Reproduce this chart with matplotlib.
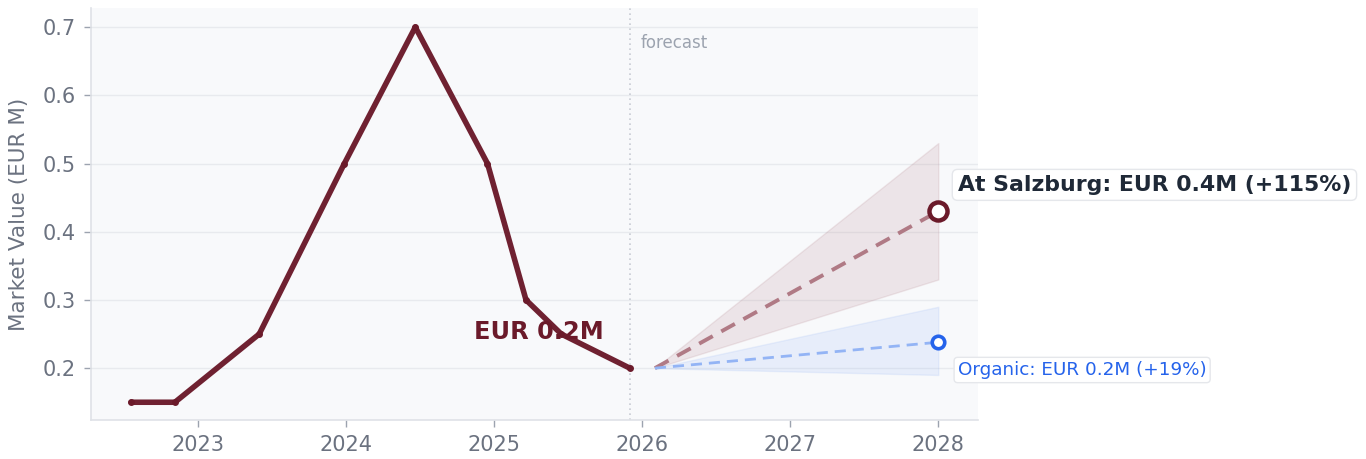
import matplotlib
matplotlib.use("Agg")
import matplotlib.pyplot as plt
import matplotlib.dates as mdates
from datetime import datetime

# ---- data ----
hist_dates = ["2022-07-20", "2022-11-05", "2023-06-01", "2023-12-28", "2024-06-20",
              "2024-12-15", "2025-03-20", "2025-06-15", "2025-12-01"]
hist_values = [0.15, 0.15, 0.25, 0.50, 0.70, 0.50, 0.30, 0.25, 0.20]

fc_dates = ["2026-02-01", "2028-01-01"]
salz_values = [0.20, 0.43]
salz_low = [0.20, 0.33]
salz_high = [0.20, 0.53]
org_values = [0.20, 0.238]
org_low = [0.20, 0.19]
org_high = [0.20, 0.29]

current_label = "EUR 0.2M"
salz_label = "At Salzburg: EUR 0.4M (+115%)"
org_label = "Organic: EUR 0.2M (+19%)"

hd = [datetime.strptime(d, "%Y-%m-%d") for d in hist_dates]
fd = [datetime.strptime(d, "%Y-%m-%d") for d in fc_dates]

MAROON = "#6b1a2a"
BLUE = "#2563eb"
GRAY = "#6b7280"

fig = plt.figure(figsize=(13.66, 4.59), dpi=100)
ax = fig.add_axes([0.0666, 0.085, 0.6494, 0.8976])
ax.set_facecolor("#f8f9fb")

# bands
ax.fill_between(fd, salz_low, salz_high, color="#b07a85", alpha=0.16, lw=1, edgecolor="#b07a85")
ax.fill_between(fd, org_low, org_high, color="#93b4f5", alpha=0.16, lw=1, edgecolor="#93b4f5")

# forecast lines
ax.plot(fd, salz_values, ls=(0, (4, 2.5)), color="#b07a85", lw=2.8, zorder=3)
ax.plot(fd, org_values, ls=(0, (4, 2.5)), color="#93b4f5", lw=2.0, zorder=3)

# history
ax.plot(hd, hist_values, color=MAROON, lw=4.0, zorder=4, solid_capstyle="round",
        solid_joinstyle="round",
        marker="o", markersize=4, markerfacecolor=MAROON, markeredgecolor=MAROON, alpha=0.97)

# end markers
ax.plot([fd[-1]], [salz_values[-1]], marker="o", markersize=13, markerfacecolor="white",
        markeredgecolor=MAROON, markeredgewidth=3.2, zorder=6, clip_on=False)
ax.plot([fd[-1]], [org_values[-1]], marker="o", markersize=9, markerfacecolor="white",
        markeredgecolor=BLUE, markeredgewidth=2.6, zorder=6, clip_on=False)

# forecast divider
ax.axvline(hd[-1], color="#c8ccd4", ls=(0, (1, 2)), lw=1.2, zorder=2)
ax.annotate("forecast", xy=(hd[-1], 0.7), xytext=(8, -5), textcoords="offset points",
            color="#9ca3af", fontsize=12, ha="left", va="top")

# labels
ax.text(datetime(2025, 4, 20), 0.253, current_label, color=MAROON, fontsize=17.3,
        fontweight="bold", ha="center", va="center", zorder=7)
ax.annotate(salz_label, xy=(fd[-1], salz_values[-1]), xytext=(14, 19), textcoords="offset points",
            fontsize=15.8, fontweight="bold", color="#1f2937", ha="left", va="center",
            annotation_clip=False,
            bbox=dict(boxstyle="round,pad=0.25", fc="white", ec="#e5e7eb", lw=1))
ax.annotate(org_label, xy=(fd[-1], org_values[-1]), xytext=(14, -20), textcoords="offset points",
            fontsize=13.2, color=BLUE, ha="left", va="center", annotation_clip=False,
            bbox=dict(boxstyle="round,pad=0.2", fc="white", ec="#e5e7eb", lw=1))

# axes style
ax.set_xlim(datetime(2022, 4, 12), datetime(2028, 4, 8))
ax.set_ylim(0.124, 0.728)
ax.set_yticks([0.2, 0.3, 0.4, 0.5, 0.6, 0.7])
ax.xaxis.set_major_locator(mdates.YearLocator())
ax.xaxis.set_major_formatter(mdates.DateFormatter("%Y"))
ax.grid(axis="y", color="#e8eaee", lw=1)
ax.set_axisbelow(True)
for s in ["top", "right"]:
    ax.spines[s].set_visible(False)
for s in ["left", "bottom"]:
    ax.spines[s].set_color("#dfe2e7")
    ax.spines[s].set_linewidth(1.2)
ax.tick_params(colors=GRAY, labelsize=15, length=5, width=1, pad=6)
ax.tick_params(axis="both", color="#9ca3af")
ax.set_ylabel("Market Value (EUR M)", color=GRAY, fontsize=15.5, labelpad=10)

fig.savefig("out.png", dpi=100)
